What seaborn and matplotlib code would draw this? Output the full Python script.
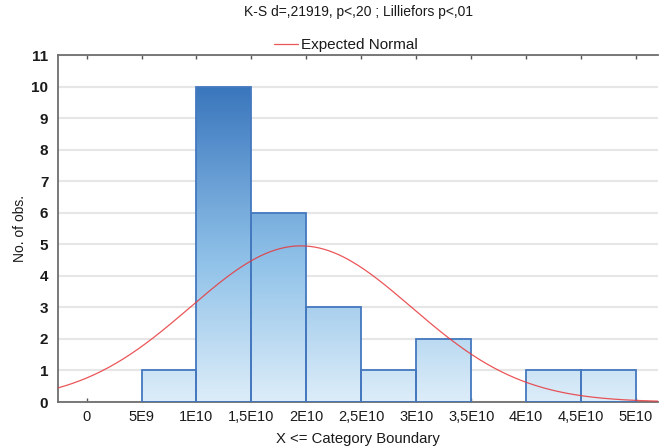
import numpy as np
import pandas as pd
import matplotlib
matplotlib.use("Agg")
import matplotlib.pyplot as plt
from matplotlib.colors import LinearSegmentedColormap
import seaborn as sns

# ---- data ----
bin_edges = [5e9, 1e10, 1.5e10, 2e10, 2.5e10, 3e10, 3.5e10, 4e10, 4.5e10, 5e10]
counts = [1, 10, 6, 3, 1, 2, 0, 1, 1]
n_obs = 25
fit_mean = 1.95e10
fit_sd = 1.0075e10
x_ticks = [0, 5e9, 1e10, 1.5e10, 2e10, 2.5e10, 3e10, 3.5e10, 4e10, 4.5e10, 5e10]
x_tick_labels = ["0", "5E9", "1E10", "1,5E10", "2E10", "2,5E10", "3E10",
                 "3,5E10", "4E10", "4,5E10", "5E10"]
y_ticks = list(range(0, 12))
title_text = "K-S d=,21919, p<,20 ; Lilliefors p<,01"
legend_text = "Expected Normal"
x_label = "X <= Category Boundary"
y_label = "No. of obs."

sns.set_theme(style="white")
plt.rcParams["font.family"] = ["Liberation Sans", "DejaVu Sans"]

fig = plt.figure(figsize=(6.59, 4.47), dpi=100)
ax = fig.add_axes([58 / 659, 1 - 402 / 447, 600 / 659, (402 - 55) / 447])

xmin, xmax = -2.6e9, 5.2e10
ymin, ymax = 0, 11

centers = [(a + b) / 2 for a, b in zip(bin_edges[:-1], bin_edges[1:])]
df = pd.DataFrame({"x": centers, "w": counts})
sns.histplot(data=df, x="x", weights="w", bins=bin_edges, ax=ax,
             color="#5b9bd5", edgecolor="#4478bf", linewidth=1.3, alpha=1)

cmap = LinearSegmentedColormap.from_list(
    "grad", [(0.0, "#ddedf9"), (0.45, "#8fc1e8"), (1.0, "#3a76bd")])
grad = np.linspace(0, 1, 256).reshape(-1, 1)
for p in list(ax.patches):
    x0 = p.get_x()
    w = p.get_width()
    h = p.get_height()
    p.set_facecolor("none")
    p.set_zorder(3)
    if h <= 0:
        p.set_visible(False)
        continue
    im = ax.imshow(grad, extent=[x0, x0 + w, 0, 10], origin="lower",
                   aspect="auto", cmap=cmap, zorder=2, interpolation="bilinear")
    im.set_clip_path(p)

# expected normal curve
bw = bin_edges[1] - bin_edges[0]
xs = np.linspace(xmin, xmax, 500)
ys = n_obs * bw * np.exp(-0.5 * ((xs - fit_mean) / fit_sd) ** 2) / (fit_sd * np.sqrt(2 * np.pi))
sns.lineplot(x=xs, y=ys, ax=ax, color="#e8383c", linewidth=0.9, alpha=0.85,
             label=legend_text, zorder=4)

ax.set_xlim(xmin, xmax)
ax.set_ylim(ymin, ymax)
ax.set_xticks(x_ticks)
ax.set_xticklabels(x_tick_labels, fontsize=10.5, color="#1a1a1a", va="baseline")
ax.set_yticks(y_ticks)
ax.set_yticklabels([str(v) for v in y_ticks], fontsize=11, fontweight="bold", color="#1a1a1a")
ax.tick_params(axis="x", direction="in", length=3, width=1, color="#555555",
               top=True, bottom=True, pad=14)
ax.tick_params(axis="y", length=0, pad=7)

ax.yaxis.grid(True, color="#e6e6e6", linewidth=1.5, zorder=0)
ax.set_axisbelow(True)

for s in ["left", "bottom", "top"]:
    ax.spines[s].set_color("#6e6e6e")
    ax.spines[s].set_linewidth(1.3)
ax.spines["right"].set_visible(False)

ax.set_xlabel(x_label, fontsize=10.7, color="#1a1a1a")
ax.xaxis.set_label_coords(0.5, -(432 - 402) / 347)
ax.set_ylabel(y_label, fontsize=10, color="#1a1a1a")
ax.yaxis.set_label_coords(-(58 - 27) / 600, 0.5)
ax.set_title(title_text, fontsize=10, color="#1a1a1a", pad=28)

leg = ax.legend(loc="lower center", bbox_to_anchor=(0.48, 1.0), frameon=False,
                fontsize=11, handlelength=1.6, handletextpad=0.2,
                borderaxespad=0.05, borderpad=0.15)
for t in leg.get_texts():
    t.set_color("#1a1a1a")

fig.savefig("out.png", dpi=100)
